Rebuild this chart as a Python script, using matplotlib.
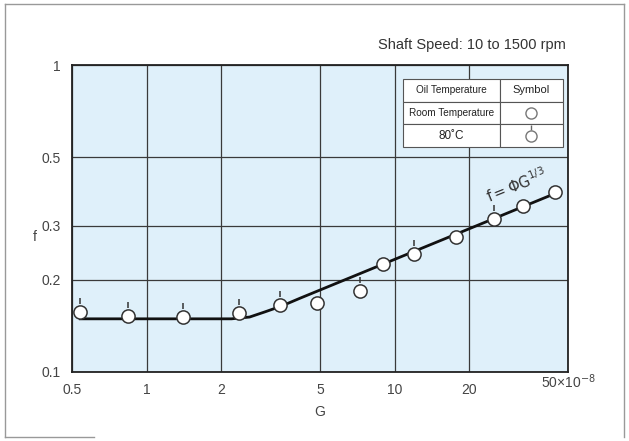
import matplotlib
matplotlib.use("Agg")
import matplotlib.pyplot as plt
from matplotlib.path import Path
from matplotlib.lines import Line2D

plt.rcParams['font.family'] = ['Liberation Sans', 'DejaVu Sans']

# measured points (G in 1e-8 units, friction coefficient f)
G = [0.54, 0.84, 1.40, 2.36, 3.45, 4.85, 7.25, 9.0, 11.97, 17.67, 25.2, 32.8, 44.3]
f = [0.157, 0.152, 0.151, 0.156, 0.165, 0.168, 0.183, 0.225, 0.242, 0.276, 0.314, 0.347, 0.385]
hot = [True, True, True, True, True, False, True, False, True, False, True, False, False]

# fitted curve
curve_G = [0.54, 2.2, 2.6, 3.0, 3.5, 4.16, 46.3]
curve_f = [0.149, 0.149, 0.151, 0.157, 0.164, 0.174, 0.387]

xticks = [0.5, 1, 2, 5, 10, 20, 50]
xlabels = ['0.5', '1', '2', '5', '10', '20', '']
yticks = [0.1, 0.2, 0.3, 0.5, 1]
ylabels = ['0.1', '0.2', '0.3', '0.5', '1']

table_rows = [['Oil Temperature', 'Symbol'],
              ['Room Temperature', ''],
              ['80\u02daC', '']]

txt = '#444444'
edge = '#555555'

fig = plt.figure(figsize=(6.29, 4.41), dpi=100)
ax = fig.add_axes([0.1145, 0.1565, 0.7885, 0.696])
ax.set_facecolor('#dff0fa')
ax.set_xscale('log')
ax.set_yscale('log')
ax.set_xlim(0.5, 50)
ax.set_ylim(0.1, 1)

ax.set_xticks(xticks)
ax.set_xticklabels(xlabels, fontsize=10, color=txt)
ax.set_yticks(yticks)
ax.set_yticklabels(ylabels, fontsize=10, color=txt)
ax.minorticks_off()
ax.tick_params(length=0, pad=8)
ax.grid(True, color='#3a3a3a', lw=0.9)
for s in ax.spines.values():
    s.set_color('#222222')
    s.set_linewidth(1.3)

ax.text(50, 0.1, '50\u00d710$^{-8}$', ha='center', va='top', fontsize=10,
        color=txt)
ax.set_xlabel('G', fontsize=10, color=txt, labelpad=6)
ax.set_ylabel('f', fontsize=10, color=txt, rotation=0, va='center')
ax.yaxis.set_label_coords(-0.075, 0.44)
fig.text(0.9, 0.898, 'Shaft Speed: 10 to 1500 rpm', ha='right', va='center',
         fontsize=10.5, color='#333333')

# fitted line
ax.plot(curve_G, curve_f, color='#111111', lw=2, zorder=3)
ax.text(31.0, 0.405, r'$\mathrm{f=\Phi G^{1/3}}$', fontsize=10.5, color='#333333',
        rotation=22, ha='center', va='center', zorder=5)

# tick marker for the 80 C symbol
tick = Path([(0, 0.55), (0, 1.0)], [Path.MOVETO, Path.LINETO])
hG = [g for g, h in zip(G, hot) if h]
hf = [v for v, h in zip(f, hot) if h]
ax.plot(hG, hf, ls='none', marker=tick, ms=20, mec='#333333', mew=1.1, zorder=4)
ax.plot(G, f, ls='none', marker='o', ms=9.5, mfc='white', mec='#333333', mew=1.1,
        zorder=5)

# legend table
tb = ax.table(cellText=table_rows, cellLoc='center',
              bbox=[0.667, 0.733, 0.323, 0.221], colWidths=[0.606, 0.394])
tb.auto_set_font_size(False)
for (r, c), cell in tb.get_celld().items():
    cell.set_facecolor('white')
    cell.set_edgecolor(edge)
    cell.set_linewidth(0.8)
    cell.get_text().set_fontsize(7.2)
    cell.get_text().set_color('#222222')
    cell.get_text().set_fontstretch('condensed')
tb[0, 1].get_text().set_fontsize(8)
tb[2, 0].get_text().set_fontsize(8.5)
tb.set_zorder(6)

sym_y = [0.844, 0.769]
ax.plot([0.925], [sym_y[1]], ls='none', marker=tick, ms=16, mec='#666666', mew=1.0,
        transform=ax.transAxes, zorder=7)
ax.plot([0.925, 0.925], sym_y, ls='none', marker='o', ms=8, mfc='white',
        mec='#777777', mew=1.0, transform=ax.transAxes, zorder=8)

# outer frame
for xs, ys in [([0.008, 0.992], [0.99, 0.99]), ([0.008, 0.008], [0.99, 0.008]),
               ([0.992, 0.992], [0.99, 0.008]), ([0.008, 0.15], [0.008, 0.008])]:
    fig.add_artist(Line2D(xs, ys, color='#999999', lw=1.0, transform=fig.transFigure))

plt.savefig('out.png', dpi=100)
